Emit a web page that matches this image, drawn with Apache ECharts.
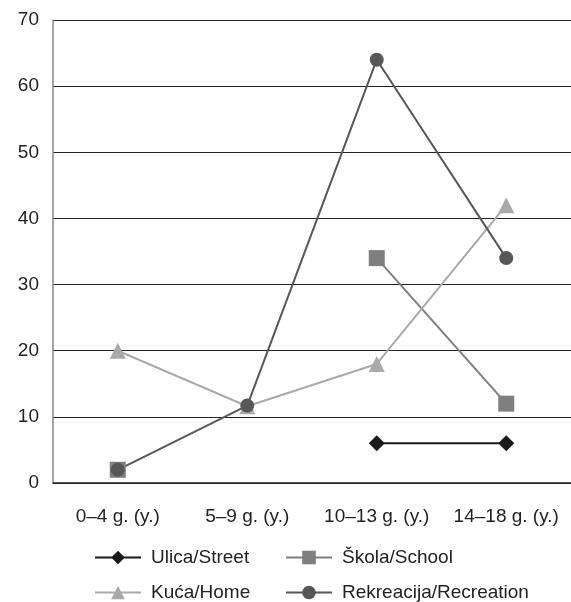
<!DOCTYPE html>
<html><head><meta charset="utf-8">
<script src="https://cdn.jsdelivr.net/npm/echarts@6/dist/echarts.min.js"></script>
<style>html,body{margin:0;padding:0;background:#fff}#c{width:571px;height:602px}</style>
</head><body><div id="c"></div>
<script>
const categories = ['0–4 g. (y.)', '5–9 g. (y.)', '10–13 g. (y.)', '14–18 g. (y.)'];
const yTicks = [0, 10, 20, 30, 40, 50, 60, 70];
const street = [null, null, 6, 6];
const school = [2, null, 34, 12];
const home = [20, 11.6, 18, 42];
const recreation = [2, 11.7, 64, 34];
const names = ['Ulica/Street', 'Škola/School', 'Kuća/Home', 'Rekreacija/Recreation'];

const font = 'Liberation Sans, Arial, sans-serif';
const chart = echarts.init(document.getElementById('c'), null, {renderer: 'canvas'});
function mk(name, data, color, symbol, size) {
  return {name, type: 'line', data, connectNulls: false, symbol, symbolSize: size,
    lineStyle: {color, width: 2}, itemStyle: {color, opacity: 1}, animation: false,
    emphasis: {disabled: true}};
}
function lg(name, left, top) {
  return {data: [name], left, top, orient: 'horizontal', itemWidth: 46, itemHeight: 17, itemGap: 6,
    padding: 0,
    textStyle: {fontFamily: font, fontSize: 19, color: '#222', padding: [0, 0, 0, 5]}, selectedMode: false};
}
chart.setOption({
  animation: false,
  grid: {left: 53, right: 0, top: 20, bottom: 119},
  legend: [lg(names[0], 94, 548), lg(names[1], 285, 548), lg(names[2], 94, 583), lg(names[3], 285, 583)],
  xAxis: {type: 'category', data: categories, boundaryGap: true,
    axisLine: {lineStyle: {color: '#222', width: 1.5}}, axisTick: {show: false},
    axisLabel: {interval: 0, hideOverlap: false, margin: 24, fontFamily: font, fontSize: 19, color: '#222'}},
  yAxis: {type: 'value', min: 0, max: 70, interval: 10,
    axisLine: {show: true, lineStyle: {color: '#888', width: 1.5}}, axisTick: {show: false},
    splitLine: {lineStyle: {color: '#222', width: 1}},
    axisLabel: {margin: 14, fontFamily: font, fontSize: 19, color: '#222',
      formatter: v => yTicks.includes(v) ? String(v) : ''}},
  series: [
    mk(names[0], street, '#1a1a1a', 'diamond', 16),
    mk(names[1], school, '#7f7f7f', 'rect', 16),
    mk(names[2], home, '#a9a9a9', 'triangle', 16),
    mk(names[3], recreation, '#575757', 'circle', 14)
  ]
});
</script></body></html>
